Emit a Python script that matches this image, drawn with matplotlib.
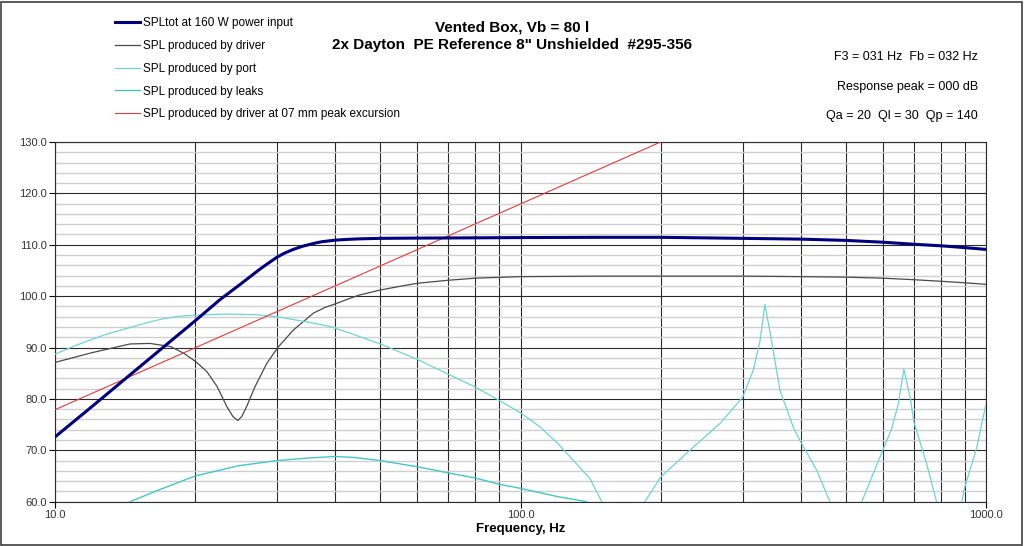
import numpy as np
import matplotlib.pyplot as plt
from matplotlib.ticker import FixedLocator, NullFormatter
from matplotlib.patches import Rectangle

plt.rcParams['font.family'] = ['Liberation Sans', 'DejaVu Sans']

# total SPL at 160 W
freq_tot = [10, 12, 14.5, 17, 20, 22.6, 25, 27.5, 28.5, 30, 31, 32.5, 34, 35, 36.5, 37.5, 40,
            42.5, 45, 50, 60, 80, 100, 150, 200, 300, 400, 500, 600, 700, 800, 900, 1000]
spl_tot = [72.6, 78.5, 84.7, 89.9, 95.2, 99.3, 102.3, 105.2, 106.2, 107.6, 108.3, 109.1, 109.7,
           110.0, 110.4, 110.6, 110.9, 111.05, 111.15, 111.25, 111.3, 111.35, 111.4, 111.45,
           111.45, 111.25, 111.1, 110.85, 110.5, 110.1, 109.8, 109.45, 109.1]

# driver
freq_drv = [10, 12, 14.5, 16, 17.7, 18.9, 20.1, 21.2, 22.3, 23.4, 24.1, 24.7, 25.2, 25.8, 26.9,
            28.5, 30.1, 32.5, 35.9, 38, 40.3, 42.5, 45, 50, 55, 60, 70, 80, 100, 150, 200, 300,
            400, 500, 600, 700, 800, 900, 1000]
spl_drv = [87.1, 89.0, 90.7, 90.8, 90.2, 88.9, 87.2, 85.3, 82.4, 78.5, 76.6, 75.8, 76.6, 78.5,
           82.4, 86.9, 90.0, 93.4, 96.7, 97.8, 98.6, 99.4, 100.2, 101.2, 101.9, 102.5, 103.1,
           103.5, 103.8, 103.9, 103.9, 103.9, 103.8, 103.7, 103.5, 103.2, 102.9, 102.6, 102.3]

# port (gaps where it drops below the axis)
freq_port = [10, 11, 12, 13, 14.5, 16, 17.1, 18.5, 20.1, 22, 23.7, 27, 30, 34.7, 39, 43, 50, 60,
             70, 80, 90, 100, 110, 120, 130, 141, 149.4, np.nan, 185, 200, 231, 268, 300, 316,
             327, 335, 344, 361, 385.5, 400, 433, 462, np.nan, 541, 600, 627, 648, 666, 687,
             700, 746, 783, np.nan, 887, 900, 955, 1000]
spl_port = [88.7, 90.3, 91.6, 92.7, 93.9, 95.0, 95.6, 96.1, 96.3, 96.45, 96.5, 96.4, 96.0, 95.0,
            94.1, 92.8, 90.7, 87.7, 84.8, 82.3, 79.7, 77.3, 74.6, 71.4, 68.0, 64.5, 60.0,
            np.nan, 60.0, 64.8, 70.0, 75.2, 80.3, 85.5, 91.3, 98.4, 92.7, 81.6, 74.5, 71.6,
            66.1, 60.0, np.nan, 60.0, 70.0, 74.2, 79.0, 85.8, 80.3, 75.5, 67.3, 60.0, np.nan,
            60.0, 62.8, 70.5, 79.0]

# leaks
freq_leak = [14.5, 16.4, 20, 24.8, 30, 35, 40, 44, 50, 60, 70, 80, 90, 100, 120, 138.7]
spl_leak = [60.0, 62.0, 65.0, 67.0, 68.0, 68.5, 68.8, 68.6, 68.0, 66.8, 65.6, 64.6, 63.4,
            62.6, 61.0, 60.0]

# excursion limit
freq_exc = [10, 200]
spl_exc = [77.9, 130.0]

labels = ['SPLtot at 160 W power input', 'SPL produced by driver', 'SPL produced by port',
          'SPL produced by leaks', 'SPL produced by driver at 07 mm peak excursion']

fig = plt.figure(figsize=(10.24, 5.46), dpi=100)
ax = fig.add_axes([55 / 1024, 1 - 501.7 / 546, 931 / 1024, 359.7 / 546])

l_drv, = ax.plot(freq_drv, spl_drv, color='#4a4a4a', lw=0.9, zorder=3)
l_port, = ax.plot(freq_port, spl_port, color='#6ed4d4', lw=0.9, zorder=3)
l_leak, = ax.plot(freq_leak, spl_leak, color='#45c6c6', lw=1.0, zorder=3)
l_exc, = ax.plot(freq_exc, spl_exc, color='#e23c3c', lw=0.8, zorder=4)
l_tot, = ax.plot(freq_tot, spl_tot, color='#00007f', lw=2.2, zorder=5)

ax.set_xscale('log')
ax.set_xlim(10, 1000)
ax.set_ylim(60, 130)

ax.xaxis.set_major_locator(FixedLocator([10, 100, 1000]))
ax.xaxis.set_minor_locator(FixedLocator(list(range(20, 100, 10)) + list(range(200, 1000, 100))))
ax.xaxis.set_minor_formatter(NullFormatter())
ax.set_xticklabels(['10.0', '100.0', '1000.0'])
ax.yaxis.set_major_locator(FixedLocator(np.arange(60, 131, 10)))
ax.yaxis.set_minor_locator(FixedLocator(np.arange(62, 130, 2)))
ax.set_yticklabels(['%.1f' % v for v in np.arange(60, 131, 10)])

ax.tick_params(which='major', direction='out', length=4, width=0.8, labelsize=8,
               labelcolor='#333333', pad=2)
ax.tick_params(which='minor', length=0)

ax.set_axisbelow(True)
ax.grid(which='minor', axis='y', color='#cfcfcf', lw=1.0)
ax.grid(which='major', axis='y', color='#2a2a2a', lw=0.8)
ax.grid(which='both', axis='x', color='#2a2a2a', lw=0.8)
for s in ax.spines.values():
    s.set_color('#2a2a2a')
    s.set_linewidth(0.8)

ax.set_xlabel('Frequency, Hz', fontsize=9.5, fontweight='bold', labelpad=2)

fig.text(0.5, 1 - 27 / 546, 'Vented Box, Vb = 80 l', ha='center', va='center',
         fontsize=11, fontweight='bold')
fig.text(0.5, 1 - 45 / 546, '2x Dayton  PE Reference 8" Unshielded  #295-356', ha='center',
         va='center', fontsize=11, fontweight='bold')

fig.text(978 / 1024, 1 - 57 / 546, 'F3 = 031 Hz  Fb = 032 Hz', ha='right', va='center', fontsize=9)
fig.text(978 / 1024, 1 - 87 / 546, 'Response peak = 000 dB', ha='right', va='center', fontsize=9)
fig.text(978 / 1024, 1 - 116 / 546, 'Qa = 20  Ql = 30  Qp = 140', ha='right', va='center', fontsize=9)

fig.legend([l_tot, l_drv, l_port, l_leak, l_exc], labels, loc='upper left',
           bbox_to_anchor=(115 / 1024, 1 - 17 / 546), frameon=False, fontsize=8.5,
           handlelength=2.1, handletextpad=0.25, labelspacing=0.92, borderpad=0,
           borderaxespad=0)

fig.patches.append(Rectangle((0.001, 0.002), 0.997, 0.995, transform=fig.transFigure,
                             fill=False, edgecolor='#404040', lw=1.2))

plt.savefig('out.png', dpi=100)
